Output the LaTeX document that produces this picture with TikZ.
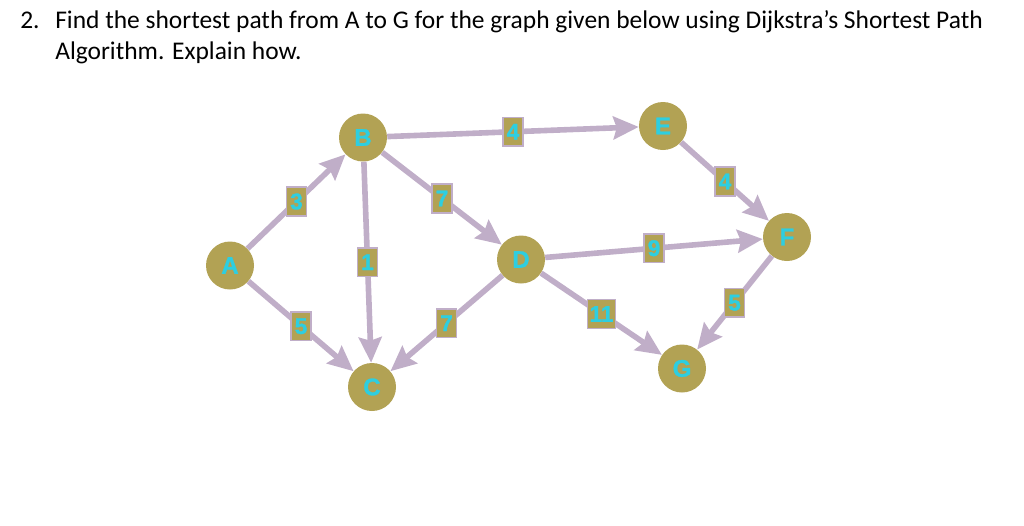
\documentclass[tikz,border=0pt]{standalone}
\usepackage{fontspec}
\setmainfont{Carlito}
\newfontfamily\graphfont[FakeBold=1.2]{Liberation Sans Bold}
\usetikzlibrary{arrows.meta}
\definecolor{vtxfill}{RGB}{178,162,84}
\definecolor{edgecol}{RGB}{192,174,200}
\definecolor{lbltext}{RGB}{46,206,224}
\begin{document}
\begin{tikzpicture}[x=0.75pt,y=0.75pt,yscale=-1,xscale=1,
  vtx/.style={circle,fill=vtxfill,minimum size=36pt,inner sep=0pt,text=lbltext,font=\graphfont\fontsize{18}{18}\selectfont},
  wgt/.style={rectangle,fill=vtxfill,draw=edgecol,line width=1.2pt,minimum width=15pt,minimum height=21.5pt,inner xsep=1.5pt,inner ysep=1pt,text=lbltext,font=\graphfont\fontsize{17}{17}\selectfont},
  arc/.style={draw=edgecol,line width=4.2pt,-{Stealth[length=19pt,width=17pt,inset=2.5pt]}},
  qtext/.style={anchor=base west,inner sep=0pt,font=\fontsize{19.1}{23}\selectfont}]
\useasboundingbox (0,0) rectangle (1024,525);

% Question
\node[qtext] (num) at (20,28) {2.};
\node[qtext] (line1) at (55,28) {Find the shortest path from A to G for the graph given below using Dijkstra’s Shortest Path};
\node[qtext] (line2) at (55,59) {Algorithm. Explain how.};

% Vertices
\node[vtx] (A) at (230,265.5) {A};
\node[vtx] (B) at (363,137.5) {B};
\node[vtx] (C) at (372,387) {C};
\node[vtx] (D) at (521,259.5) {D};
\node[vtx] (E) at (663,126) {E};
\node[vtx] (F) at (787,237) {F};
\node[vtx] (G) at (682,368.5) {G};

% Weighted edges
\draw[arc] (A) -- node[wgt] {3} (B);
\draw[arc] (A) -- node[wgt] {5} (C);
\draw[arc] (B) -- node[wgt] {1} (C);
\draw[arc] (B) -- node[wgt] {7} (D);
\draw[arc] (B) -- node[wgt] {4} (E);
\draw[arc] (D) -- node[wgt] {7} (C);
\draw[arc] (D) -- node[wgt] {9} (F);
\draw[arc] (D) -- node[wgt] {11} (G);
\draw[arc] (E) -- node[wgt] {4} (F);
\draw[arc] (F) -- node[wgt] {5} (G);
\end{tikzpicture}
\end{document}
